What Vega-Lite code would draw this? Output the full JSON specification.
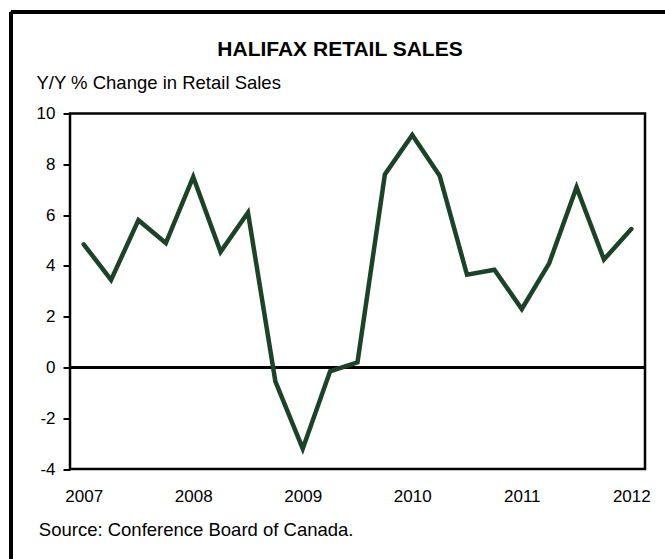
{
  "$schema": "https://vega.github.io/schema/vega-lite/v6.json",
  "autosize": {"type": "none"},
  "width": 575,
  "height": 355.5,
  "padding": {"left": 70, "top": 113.5, "right": 20, "bottom": 90},
  "background": "white",
  "title": {
    "text": "HALIFAX RETAIL SALES",
    "font": "Liberation Sans",
    "fontSize": 21,
    "fontWeight": "bold",
    "color": "black",
    "anchor": "middle",
    "frame": "group",
    "baseline": "alphabetic",
    "offset": 0,
    "dx": -17.5,
    "dy": 66.5
  },
  "config": {
    "view": {"stroke": "black", "strokeWidth": 2.5},
    "font": "Liberation Sans"
  },
  "data": {
    "values": [
      {"time": 2007.00, "change": 4.85},
      {"time": 2007.25, "change": 3.45},
      {"time": 2007.50, "change": 5.8},
      {"time": 2007.75, "change": 4.9},
      {"time": 2008.00, "change": 7.5},
      {"time": 2008.25, "change": 4.55},
      {"time": 2008.50, "change": 6.1},
      {"time": 2008.75, "change": -0.55},
      {"time": 2009.00, "change": -3.2},
      {"time": 2009.25, "change": -0.15},
      {"time": 2009.50, "change": 0.2},
      {"time": 2009.75, "change": 7.6},
      {"time": 2010.00, "change": 9.15},
      {"time": 2010.25, "change": 7.55},
      {"time": 2010.50, "change": 3.65},
      {"time": 2010.75, "change": 3.85},
      {"time": 2011.00, "change": 2.3},
      {"time": 2011.25, "change": 4.1},
      {"time": 2011.50, "change": 7.1},
      {"time": 2011.75, "change": 4.25},
      {"time": 2012.00, "change": 5.45}
    ]
  },
  "layer": [
    {
      "mark": {"type": "rule", "color": "black", "strokeWidth": 3},
      "encoding": {
        "x": {"datum": 2006.336, "type": "quantitative"},
        "y": {"datum": 14.0, "type": "quantitative"},
        "y2": {"datum": -7.6}
      }
    },
    {
      "mark": {"type": "rule", "color": "black", "strokeWidth": 3},
      "encoding": {
        "x": {"datum": 2006.336, "type": "quantitative"},
        "x2": {"datum": 2012.32},
        "y": {"datum": 14.0, "type": "quantitative"}
      }
    },
    {
      "mark": {"type": "rule", "color": "black", "strokeWidth": 2},
      "encoding": {
        "y": {"datum": 0, "type": "quantitative"}
      }
    },
    {
      "mark": {"type": "line", "color": "#1b4426", "strokeWidth": 4.5, "strokeJoin": "miter", "strokeCap": "round"},
      "encoding": {
        "x": {
          "field": "time",
          "type": "quantitative",
          "scale": {"domain": [2006.875, 2012.125], "nice": false, "zero": false},
          "axis": {
            "values": [2007, 2008, 2009, 2010, 2011, 2012],
            "format": "d",
            "ticks": false,
            "domain": false,
            "grid": false,
            "labelFont": "Liberation Sans",
            "labelFontSize": 17,
            "labelColor": "black",
            "labelPadding": 19,
            "title": "Source: Conference Board of Canada.",
            "titleFont": "Liberation Sans",
            "titleFontSize": 18.5,
            "titleFontWeight": "normal",
            "titleColor": "black",
            "titleAnchor": "start",
            "titleAlign": "left",
            "titleBaseline": "alphabetic",
            "titleX": -31.7,
            "titleY": 66.7
          }
        },
        "y": {
          "field": "change",
          "type": "quantitative",
          "scale": {"domain": [-4, 10], "nice": false, "zero": false},
          "axis": {
            "values": [-4, -2, 0, 2, 4, 6, 8, 10],
            "labelExpr": "'' + datum.value",
            "domain": false,
            "grid": false,
            "tickSize": 7,
            "tickWidth": 2,
            "tickColor": "black",
            "labelFont": "Liberation Sans",
            "labelFontSize": 17,
            "labelColor": "black",
            "labelPadding": 8,
            "title": "Y/Y % Change in Retail Sales",
            "titleFont": "Liberation Sans",
            "titleFontSize": 18.5,
            "titleFontWeight": "normal",
            "titleColor": "black",
            "titleAngle": 0,
            "titleAlign": "left",
            "titleBaseline": "alphabetic",
            "titleX": -34,
            "titleY": -25
          }
        }
      }
    }
  ]
}
